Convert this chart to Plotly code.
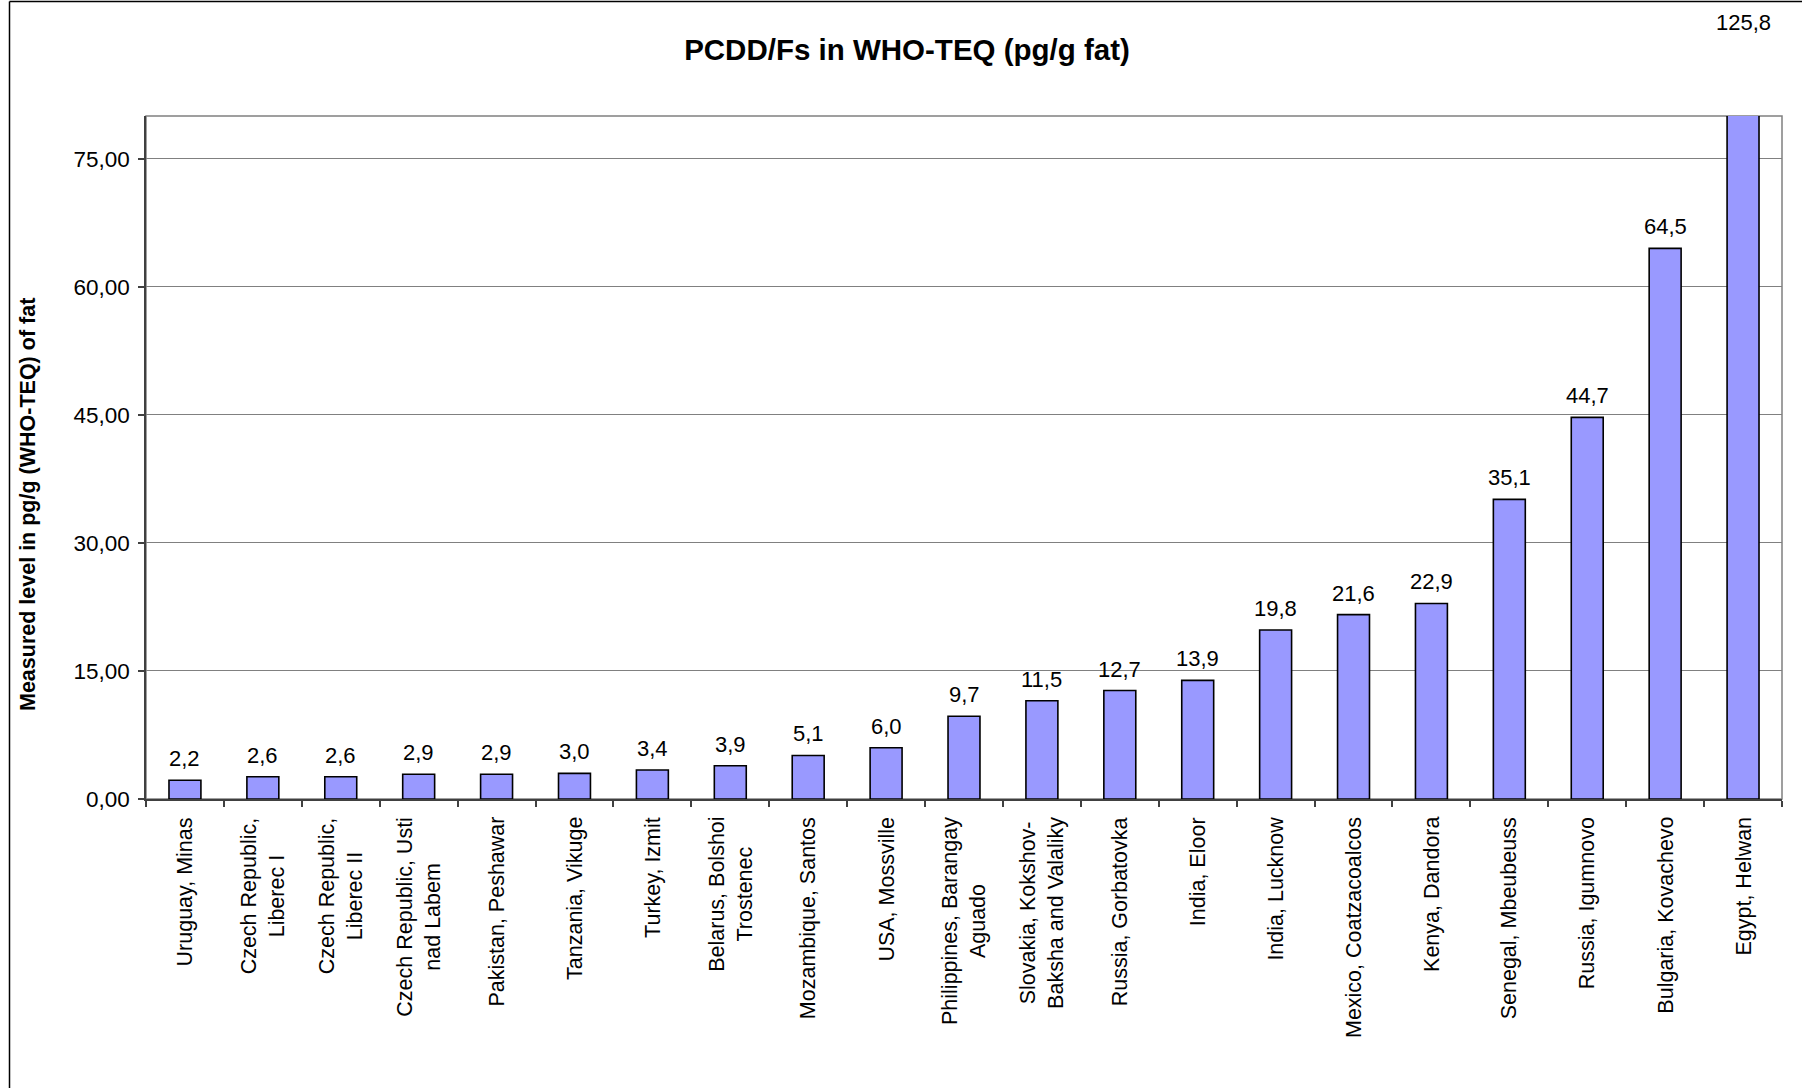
import plotly.graph_objects as go

categories = [
    "Uruguay, Minas",
    "Czech Republic,<br>Liberec I",
    "Czech Republic,<br>Liberec II",
    "Czech Republic, Usti<br>nad Labem",
    "Pakistan, Peshawar",
    "Tanzania, Vikuge",
    "Turkey, Izmit",
    "Belarus, Bolshoi<br>Trostenec",
    "Mozambique, Santos",
    "USA, Mossville",
    "Philippines, Barangay<br>Aguado",
    "Slovakia, Kokshov-<br>Baksha and Valaliky",
    "Russia, Gorbatovka",
    "India, Eloor",
    "India, Lucknow",
    "Mexico, Coatzacoalcos",
    "Kenya, Dandora",
    "Senegal, Mbeubeuss",
    "Russia, Igumnovo",
    "Bulgaria, Kovachevo",
    "Egypt, Helwan",
]
values = [2.2, 2.6, 2.6, 2.9, 2.9, 3.0, 3.4, 3.9, 5.1, 6.0, 9.7, 11.5, 12.7, 13.9,
          19.8, 21.6, 22.9, 35.1, 44.7, 64.5, 125.8]
y_ticks = [0, 15, 30, 45, 60, 75]
y_max = 80

title = "PCDD/Fs in WHO-TEQ (pg/g fat)"
y_title = "Measured level in pg/g (WHO-TEQ) of fat"

FONT = "Liberation Sans, Arial, sans-serif"

W, H = 1802, 1088
ml, mr, mt, mb = 146, 20, 116, 289
pw, ph = W - ml - mr, H - mt - mb


def px_x(px):
    return (px - ml) / pw


def px_y(py):
    return (H - mb - py) / ph


fig = go.Figure()
fig.add_trace(go.Bar(
    x=categories, y=values,
    marker=dict(color="#9999FF", line=dict(color="black", width=1.6)),
    width=0.41,
    hoverinfo="skip",
))

annotations = []
# value labels
for c, v in zip(categories, values):
    txt = f"{v:.1f}".replace(".", ",")
    if v <= y_max:
        annotations.append(dict(x=c, y=v, xref="x", yref="y", text=txt,
                                showarrow=False, yanchor="bottom", yshift=7,
                                font=dict(size=22, color="black", family=FONT)))
    else:
        annotations.append(dict(x=c, y=px_y(22), xref="x", yref="paper", text=txt,
                                showarrow=False, yanchor="middle",
                                font=dict(size=22, color="black", family=FONT)))
# category labels (rotated, centred lines)
for c in categories:
    annotations.append(dict(x=c, y=0, xref="x", yref="paper", text=c,
                            showarrow=False, textangle=-90, yanchor="top",
                            xanchor="center", yshift=-16, align="center",
                            font=dict(size=21.5, color="black", family=FONT)))
# y-axis title
annotations.append(dict(x=px_x(28), y=px_y(505), xref="paper", yref="paper",
                        text=f"<b>{y_title}</b>",
                        showarrow=False, textangle=-90, xanchor="center", yanchor="middle",
                        font=dict(size=21.5, color="black", family=FONT)))

fig.update_layout(
    width=W, height=H,
    margin=dict(l=ml, r=mr, t=mt, b=mb),
    paper_bgcolor="white", plot_bgcolor="white",
    separators=",.",
    showlegend=False,
    title=dict(text=f"<b>{title}</b>", x=px_x(907), xref="paper", xanchor="center",
               y=1 - 50 / H, yanchor="middle",
               font=dict(size=29.5, color="black", family=FONT)),
    annotations=annotations,
    shapes=[
        dict(type="rect", xref="paper", yref="paper", x0=0, x1=1, y0=0, y1=1,
             line=dict(color="#808080", width=1.5), layer="below"),
        dict(type="line", xref="paper", yref="paper",
             x0=px_x(9.5), x1=px_x(9.5), y0=px_y(H + 5), y1=px_y(1.5),
             line=dict(color="black", width=1.5)),
        dict(type="line", xref="paper", yref="paper",
             x0=px_x(9.5), x1=px_x(W + 5), y0=px_y(1.5), y1=px_y(1.5),
             line=dict(color="black", width=1.5)),
    ],
)
fig.update_xaxes(
    type="category", showticklabels=False, showgrid=False,
    showline=True, linecolor="#404040", linewidth=1.5,
    ticks="outside", tickson="boundaries", ticklen=6, tickcolor="#404040", tickwidth=1.5,
    zeroline=False, fixedrange=True,
)
fig.update_yaxes(
    range=[0, y_max], tickvals=y_ticks, tickformat=".2f",
    showgrid=True, gridcolor="#808080", gridwidth=1,
    showline=True, linecolor="#404040", linewidth=1.5,
    ticks="outside", ticklen=6, tickcolor="#404040", tickwidth=1.5,
    ticklabelstandoff=4,
    tickfont=dict(size=22.5, color="black", family=FONT),
    zeroline=False, fixedrange=True,
)

fig.write_html("out.html", config={"displayModeBar": False},
               post_script="document.body.style.margin='0px';document.body.style.overflow='hidden';")
